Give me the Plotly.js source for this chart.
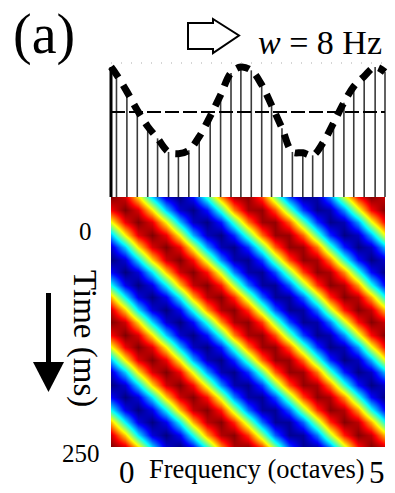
<!DOCTYPE html>
<html>
<head>
<meta charset="utf-8">
<script src="https://cdn.plot.ly/plotly-3.0.1.min.js"></script>
<style>html,body{margin:0;padding:0;background:#fff;}#chart{width:395px;height:493px;}</style>
</head>
<body>
<div id="chart"></div>
<script>
// ---- data ----
const freqOct = [0,0.25,0.5,0.75,1,1.25,1.5,1.75,2,2.25,2.5,2.75,3,3.25,3.5,3.75,4,4.25,4.5,4.75,5];
const timeMs = [0,12.5,25,37.5,50,62.5,75,87.5,100,112.5,125,137.5,150,162.5,175,187.5,200,212.5,225,237.5,250];
const rippleZ = [
 [1.00,0.84,0.32,-0.32,-0.84,-1.00,-0.74,-0.17,0.47,0.91,0.97,0.63,0.02,-0.60,-0.96,-0.92,-0.50,0.14,0.72,0.99,0.85],
 [0.76,1.00,0.82,0.29,-0.35,-0.85,-0.99,-0.72,-0.14,0.50,0.92,0.96,0.60,-0.02,-0.63,-0.97,-0.91,-0.47,0.17,0.74,1.00],
 [0.23,0.78,1.00,0.80,0.26,-0.38,-0.87,-0.99,-0.70,-0.11,0.52,0.94,0.96,0.57,-0.05,-0.65,-0.98,-0.90,-0.44,0.20,0.76],
 [-0.38,0.26,0.80,1.00,0.78,0.23,-0.41,-0.88,-0.99,-0.67,-0.08,0.55,0.95,0.95,0.55,-0.08,-0.67,-0.99,-0.88,-0.41,0.23],
 [-0.85,-0.35,0.29,0.82,1.00,0.76,0.20,-0.44,-0.90,-0.98,-0.65,-0.05,0.57,0.96,0.94,0.52,-0.11,-0.70,-0.99,-0.87,-0.38],
 [-1.00,-0.84,-0.32,0.32,0.84,1.00,0.74,0.17,-0.47,-0.91,-0.97,-0.63,-0.02,0.60,0.96,0.92,0.50,-0.14,-0.72,-0.99,-0.85],
 [-0.76,-1.00,-0.82,-0.29,0.35,0.85,0.99,0.72,0.14,-0.50,-0.92,-0.96,-0.60,0.02,0.63,0.97,0.91,0.47,-0.17,-0.74,-1.00],
 [-0.23,-0.78,-1.00,-0.80,-0.26,0.38,0.87,0.99,0.70,0.11,-0.52,-0.94,-0.96,-0.57,0.05,0.65,0.98,0.90,0.44,-0.20,-0.76],
 [0.38,-0.26,-0.80,-1.00,-0.78,-0.23,0.41,0.88,0.99,0.67,0.08,-0.55,-0.95,-0.95,-0.55,0.08,0.67,0.99,0.88,0.41,-0.23],
 [0.85,0.35,-0.29,-0.82,-1.00,-0.76,-0.20,0.44,0.90,0.98,0.65,0.05,-0.57,-0.96,-0.94,-0.52,0.11,0.70,0.99,0.87,0.38],
 [1.00,0.84,0.32,-0.32,-0.84,-1.00,-0.74,-0.17,0.47,0.91,0.97,0.63,0.02,-0.60,-0.96,-0.92,-0.50,0.14,0.72,0.99,0.85],
 [0.76,1.00,0.82,0.29,-0.35,-0.85,-0.99,-0.72,-0.14,0.50,0.92,0.96,0.60,-0.02,-0.63,-0.97,-0.91,-0.47,0.17,0.74,1.00],
 [0.23,0.78,1.00,0.80,0.26,-0.38,-0.87,-0.99,-0.70,-0.11,0.52,0.94,0.96,0.57,-0.05,-0.65,-0.98,-0.90,-0.44,0.20,0.76],
 [-0.38,0.26,0.80,1.00,0.78,0.23,-0.41,-0.88,-0.99,-0.67,-0.08,0.55,0.95,0.95,0.55,-0.08,-0.67,-0.99,-0.88,-0.41,0.23],
 [-0.85,-0.35,0.29,0.82,1.00,0.76,0.20,-0.44,-0.90,-0.98,-0.65,-0.05,0.57,0.96,0.94,0.52,-0.11,-0.70,-0.99,-0.87,-0.38],
 [-1.00,-0.84,-0.32,0.32,0.84,1.00,0.74,0.17,-0.47,-0.91,-0.97,-0.63,-0.02,0.60,0.96,0.92,0.50,-0.14,-0.72,-0.99,-0.85],
 [-0.76,-1.00,-0.82,-0.29,0.35,0.85,0.99,0.72,0.14,-0.50,-0.92,-0.96,-0.60,0.02,0.63,0.97,0.91,0.47,-0.17,-0.74,-1.00],
 [-0.23,-0.78,-1.00,-0.80,-0.26,0.38,0.87,0.99,0.70,0.11,-0.52,-0.94,-0.96,-0.57,0.05,0.65,0.98,0.90,0.44,-0.20,-0.76],
 [0.38,-0.26,-0.80,-1.00,-0.78,-0.23,0.41,0.88,0.99,0.67,0.08,-0.55,-0.95,-0.95,-0.55,0.08,0.67,0.99,0.88,0.41,-0.23],
 [0.85,0.35,-0.29,-0.82,-1.00,-0.76,-0.20,0.44,0.90,0.98,0.65,0.05,-0.57,-0.96,-0.94,-0.52,0.11,0.70,0.99,0.87,0.38],
 [1.00,0.84,0.32,-0.32,-0.84,-1.00,-0.74,-0.17,0.47,0.91,0.97,0.63,0.02,-0.60,-0.96,-0.92,-0.50,0.14,0.72,0.99,0.85]
];
const stemFreq = [0,0.10,0.29,0.48,0.67,0.85,1.05,1.23,1.42,1.61,1.81,2.00,2.19,2.37,2.56,2.75,2.93,3.12,3.31,3.50,3.68,3.87,4.06,4.25,4.43,4.62,4.82,5.00];
const stemAmp  = [1.53,1.44,1.24,1.02,0.83,0.69,0.53,0.51,0.55,0.71,0.95,1.20,1.46,1.53,1.49,1.32,1.08,0.81,0.53,0.52,0.49,0.64,0.87,1.11,1.30,1.42,1.53,1.47];
const meanLevel = 1.0;
const timeTickLabels = ['0','250'];
const freqTickLabels = ['0','5'];
const rateLabel = '<i>w</i> = 8 Hz';
const panelLabel = '(a)';
const xTitle = 'Frequency (octaves)';
const yTitle = 'Time (ms)';

// ---- drawing ----
const W = 395, H = 493;
const px = x => x / W;
const py = y => 1 - y / H;
const serif = 'Liberation Serif, Times New Roman, serif';

const jet = [[0,'rgb(0,0,128)'],[0.125,'rgb(0,0,255)'],[0.375,'rgb(0,255,255)'],
             [0.625,'rgb(255,255,0)'],[0.875,'rgb(255,0,0)'],[1,'rgb(128,0,0)']];

const stemX = [], stemY = [];
stemFreq.forEach((f, k) => { stemX.push(f, f, null); stemY.push(0, stemAmp[k], null); });

const pxPerOct = (385 - 111) / 5;
const ampPx = 85; // pixels per amplitude unit in top panel

const traces = [
  {type:'heatmap', x:freqOct, y:timeMs, z:rippleZ, colorscale:jet, zmin:-1, zmax:1,
   zsmooth:'best', showscale:false, xaxis:'x', yaxis:'y', hoverinfo:'skip'},
  {type:'scatter', mode:'lines', x:stemX, y:stemY, line:{color:'#3a3a3a', width:1.6},
   xaxis:'x2', yaxis:'y2', hoverinfo:'skip'},
  {type:'scatter', mode:'lines', x:[stemFreq[0], stemFreq[0]], y:[0, stemAmp[0]],
   line:{color:'#000', width:3}, xaxis:'x2', yaxis:'y2', hoverinfo:'skip'},
  {type:'scatter', mode:'lines', x:[freqOct[0], freqOct[freqOct.length-1]], y:[meanLevel, meanLevel],
   line:{color:'#000', width:2, dash:'14px,4px'}, xaxis:'x2', yaxis:'y2', hoverinfo:'skip'},
  {type:'scatter', mode:'lines', x:stemFreq, y:stemAmp,
   line:{color:'#000', width:7, dash:'13px,9px', shape:'spline'}, xaxis:'x2', yaxis:'y2', hoverinfo:'skip'}
];

const hidden = {showgrid:false, zeroline:false, showline:false, ticks:'', showticklabels:false, fixedrange:true};

function P(x, y) { return px(x).toFixed(5) + ',' + py(y).toFixed(5); }

const shapes = [
  {type:'path', xref:'paper', yref:'paper',
   path:'M'+P(188,23)+' L'+P(213,23)+' L'+P(213,19)+' L'+P(239,35.5)+' L'+P(213,53)+' L'+P(213,49)+' L'+P(188,49)+' Z',
   line:{color:'#000', width:2}, fillcolor:'#fff'},
  {type:'rect', xref:'paper', yref:'paper', x0:px(46), x1:px(51), y0:py(363), y1:py(293),
   line:{width:0}, fillcolor:'#000'},
  {type:'path', xref:'paper', yref:'paper',
   path:'M'+P(33,362)+' L'+P(64,362)+' L'+P(48.5,392)+' Z', line:{width:0}, fillcolor:'#000'},
  {type:'line', xref:'paper', yref:'paper', x0:px(111), x1:px(388), y0:py(63), y1:py(63),
   line:{color:'#aaa', width:1, dash:'1px,9px'}}
];

const ann = (text, x, y, size, extra) => Object.assign({
  text, xref:'paper', yref:'paper', x:px(x), y:py(y), xanchor:'center', yanchor:'middle',
  showarrow:false, font:{family:serif, size, color:'#000'}}, extra || {});

const annotations = [
  ann(panelLabel, 44, 35, 56),
  ann(rateLabel, 320, 42, 34),
  ann(yTitle, 85, 338, 33, {textangle:90}),
  ann(timeTickLabels[0], 85, 231, 25),
  ann(timeTickLabels[1], 81, 453, 25),
  ann(freqTickLabels[0], 127, 472, 31),
  ann(freqTickLabels[1], 377, 472, 31),
  ann(xTitle, 256.5, 469, 26.5)
];

const layout = {
  width:W, height:H, margin:{l:0, r:0, t:0, b:0, pad:0},
  paper_bgcolor:'#fff', plot_bgcolor:'rgba(0,0,0,0)', showlegend:false,
  xaxis: Object.assign({domain:[px(111), px(385)], range:[0,5], anchor:'y'}, hidden),
  yaxis: Object.assign({domain:[py(447), py(197)], range:[250,0], anchor:'x'}, hidden),
  xaxis2: Object.assign({domain:[px(108), px(390)], range:[-3/pxPerOct, 5 + 5/pxPerOct], anchor:'y2'}, hidden),
  yaxis2: Object.assign({domain:[py(197), py(60)], range:[0, 137/ampPx], anchor:'x2'}, hidden),
  shapes, annotations
};

Plotly.newPlot('chart', traces, layout, {staticPlot:true, displayModeBar:false});
</script>
</body>
</html>
